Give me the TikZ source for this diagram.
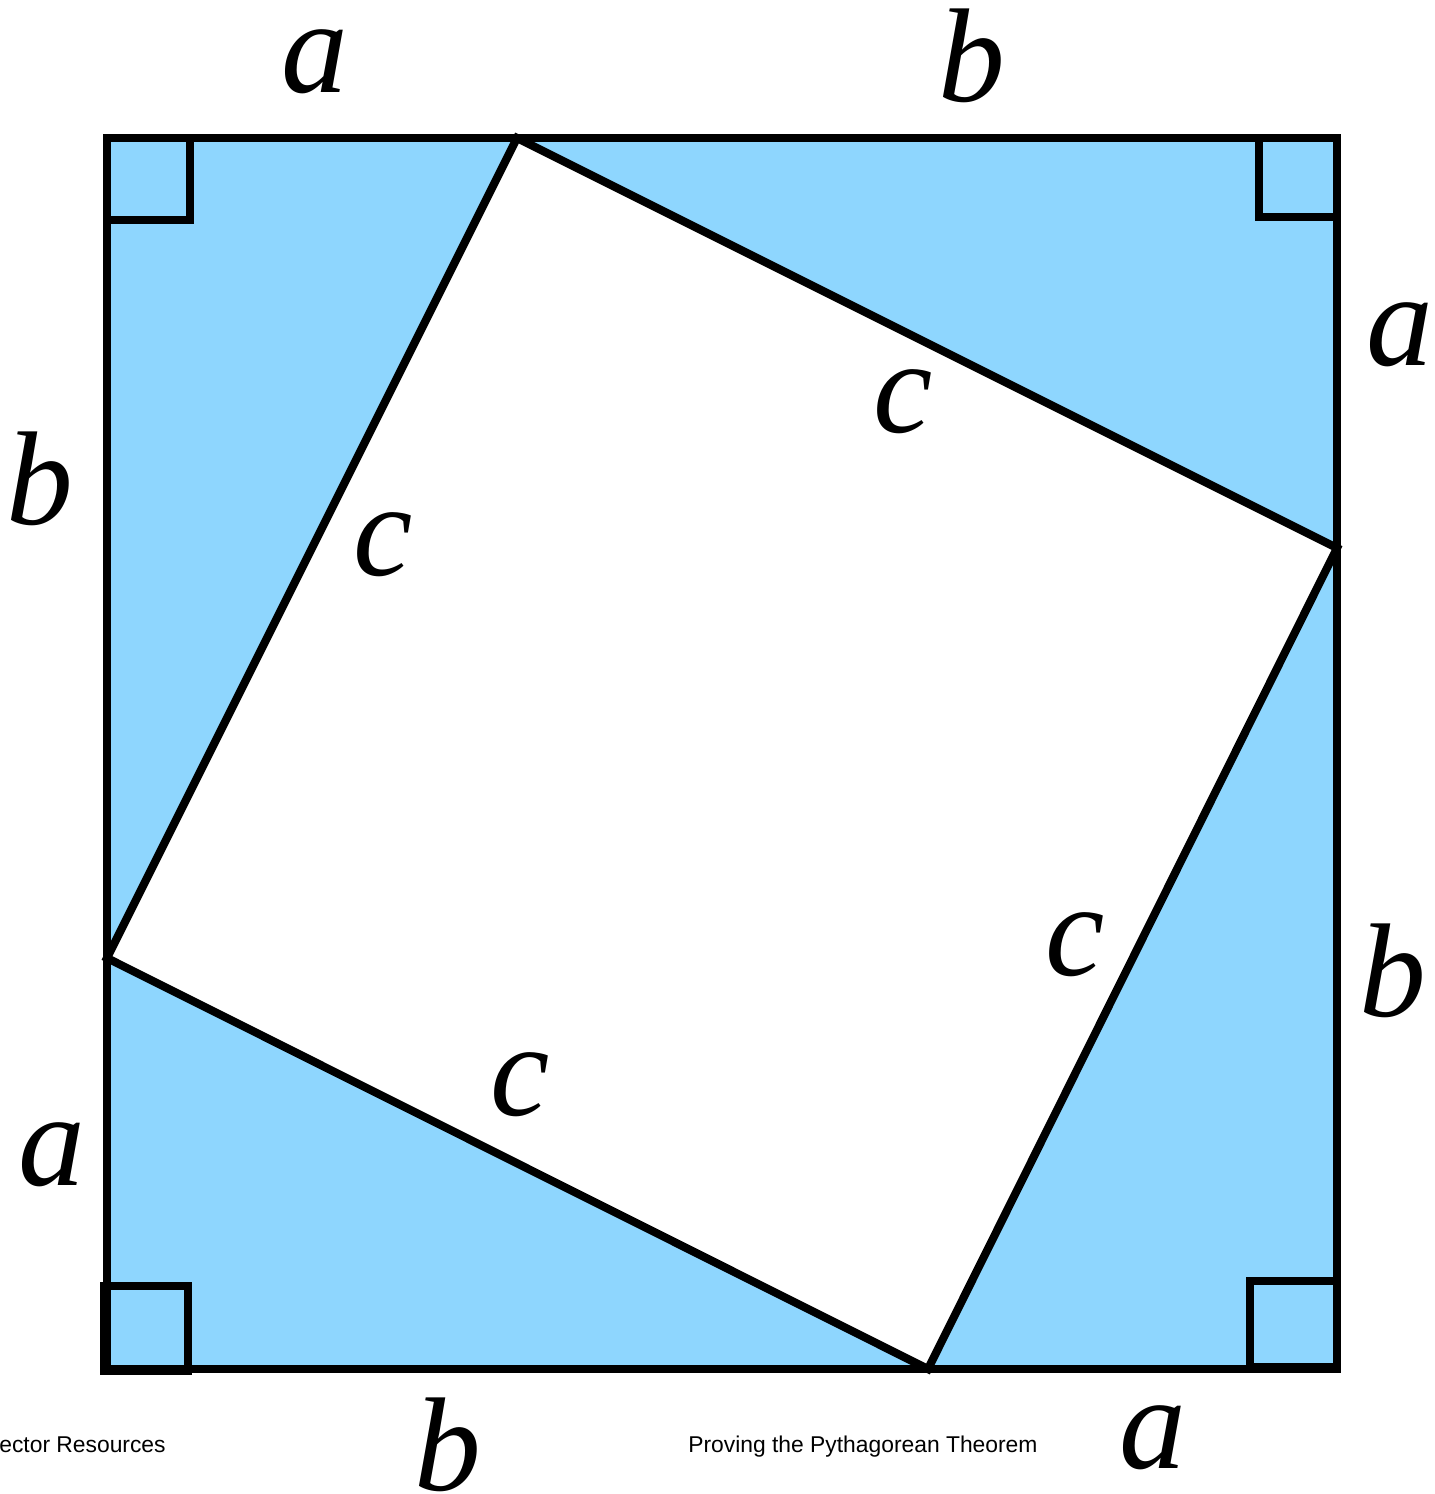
\documentclass[tikz,border=0pt]{standalone}
\usepackage{fontspec}
\newfontfamily\captionfont{Liberation Sans}
\newfontfamily\letterfont{Liberation Serif}
\usepackage{tikz}
\usetikzlibrary{calc}
\definecolor{skyblue}{RGB}{142, 214, 254}

\begin{document}
\begin{tikzpicture}[
    x = 0.02cm, y = -0.02cm,
    d0/.style = {line width = 4.6pt, line join = miter},
    lab/.style = {inner sep = 0pt, font = \letterfont\itshape\fontsize{76}{80}\selectfont},
    foot/.style = {inner sep = 0pt, font = \captionfont\fontsize{13}{15}\selectfont},
]
\useasboundingbox (0,0) rectangle (1435,1494);

% outer square and the four touching points
\coordinate (sw) at (107,1369);
\coordinate (ne) at (1337,138);
\coordinate (pt) at (517,138);
\coordinate (pr) at (1337,548);
\coordinate (pb) at (928,1369);
\coordinate (pl) at (107,958);

\fill[skyblue] (sw) rectangle (ne);
\draw[d0, fill = white] (pt) -- (pr) -- (pb) -- (pl) -- cycle;
\draw[d0] (sw) rectangle (ne);

% right angle marks
\draw[d0] (107,138) rectangle (190,220);
\draw[d0] (1259,138) rectangle (1337,217);
\draw[d0] (104,1286) rectangle (188,1371);
\draw[d0] (1250,1281) rectangle (1337,1367);

% side labels
\node[lab] (a1) at (315,62) {a};
\node[lab] (b1) at (972,56) {b};
\node[lab] (a2) at (1400,335) {a};
\node[lab] (b2) at (1393,971) {b};
\node[lab] (a3) at (1153,1438) {a};
\node[lab] (b3) at (448,1445) {b};
\node[lab] (a4) at (52,1155) {a};
\node[lab] (b4) at (40,479) {b};

\node[lab] (c1) at (903,402) {c};
\node[lab] (c2) at (383,545) {c};
\node[lab] (c3) at (1075,945) {c};
\node[lab] (c4) at (520,1085) {c};

% footer
\node[foot, anchor = base east] (res) at (166,1452) {ector Resources};
\node[foot, anchor = base west] (ttl) at (688,1452) {Proving the Pythagorean Theorem};

\end{tikzpicture}
\end{document}
